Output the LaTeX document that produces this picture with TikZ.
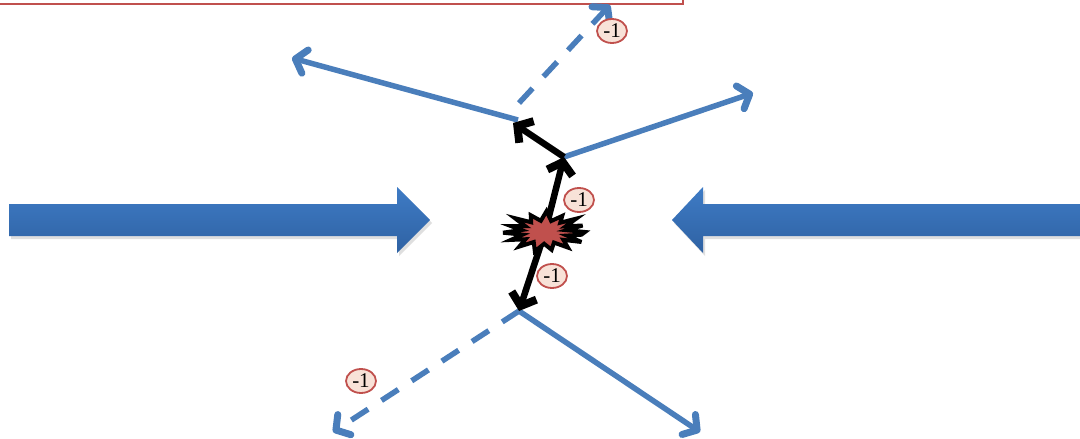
\documentclass[tikz,border=0pt]{standalone}
\usepackage{fontspec}
\setmainfont{Liberation Serif}
\usetikzlibrary{arrows.meta,shadows,shapes.geometric}

\definecolor{lineblue}{HTML}{4A7EBB}
\definecolor{arrowtop}{HTML}{3E7BC5}
\definecolor{arrowbot}{HTML}{2F62A3}
\definecolor{boxred}{HTML}{C0504D}
\definecolor{tagfill}{HTML}{F8E2D8}
\definecolor{burstred}{HTML}{C0504D}

\tikzset{
  track/.style={draw=lineblue, line width=5.5pt,
    -{Straight Barb[length=10pt,width=24pt,line width'=7pt,line join=round,line cap=round]}},
  ghost/.style={track, dash pattern=on 20pt off 16pt},
  recoil/.style={draw=black, line width=6.5pt,
    -{Straight Barb[length=11pt,width=26pt,line width'=8pt,line join=miter]}},
  tag/.style={ellipse, draw=boxred, line width=1.8pt, fill=tagfill,
    inner sep=0pt, minimum width=30pt, minimum height=24pt,
    font=\fontsize{21}{21}\selectfont},
  beam/.style={top color=arrowtop, bottom color=arrowbot, draw=none,
    drop shadow={opacity=0.25, shadow xshift=2pt, shadow yshift=-3pt}},
}

\begin{document}
\begin{tikzpicture}[x=1pt,y=-1pt]
\useasboundingbox (0,0) rectangle (1080,439);

% frame edge along the top
\draw[boxred, line width=1.5pt] (-10,-20) rectangle (683,4);

% incoming beams
\path[beam] (9,204) -- (397,204) -- (397,187) -- (430,220) -- (397,253)
  -- (397,236) -- (9,236) -- cycle;
\path[beam] (1090,204) -- (703,204) -- (703,187) -- (672,220) -- (703,253)
  -- (703,236) -- (1090,236) -- cycle;

% vertices and track ends
\coordinate (burst) at (545,232);
\coordinate (up) at (564,157);
\coordinate (ul) at (518,120);
\coordinate (lo) at (519,311);
\coordinate (tipR) at (753,93);
\coordinate (tipL) at (292,58);
\coordinate (tipD) at (700,432);
\coordinate (tipDL) at (333,432);
\coordinate (tipU) at (610,5);
\coordinate (dashU) at (519,103);
\coordinate (tipK) at (513,123);

% outgoing tracks
\draw[track] (up) -- (tipR);
\draw[track] (ul) -- (tipL);
\draw[track] (lo) -- (tipD);
\draw[ghost] (dashU) -- (tipU);
\draw[ghost] (lo) -- (tipDL);

% recoil arrows
\draw[recoil] (burst) -- (up);
\draw[recoil] (up) -- (tipK);
\draw[recoil] (burst) -- (lo);

% interaction point
\draw[fill=burstred, draw=black, line width=4pt, line join=miter, miter limit=6,
  shift={(burst)}]
  (0:40pt and 15pt)
  \foreach \a/\f in {10/0.55, 20/1.0, 30/0.6, 42/1.05, 52/0.62, 63/0.95, 75/0.6,
     88/1.1, 100/0.6, 112/0.95, 124/0.62, 136/1.05, 148/0.58, 160/0.9, 170/0.6,
     182/1.05, 194/0.58, 206/0.95, 218/0.62, 230/1.0, 242/0.6, 256/1.05, 268/0.62,
     280/0.95, 292/0.6, 305/1.0, 318/0.62, 330/1.05, 341/0.58, 351/0.92}
  { -- ({\a}:{\f*40pt} and {\f*19pt}) } -- cycle;

% sign tags
\node[tag] (t1) at (612,31) {-1};
\node[tag] (t2) at (579,200) {-1};
\node[tag] (t3) at (552,276) {-1};
\node[tag] (t4) at (361,381) {-1};
\end{tikzpicture}
\end{document}
